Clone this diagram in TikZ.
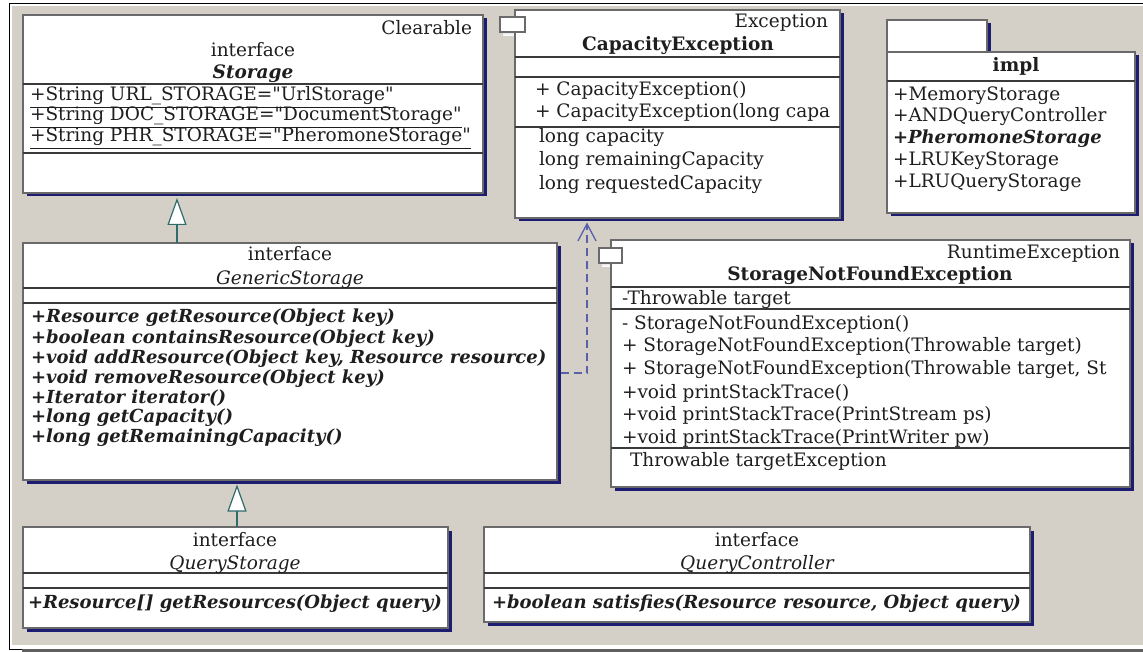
\documentclass[tikz,border=0pt]{standalone}
\usepackage{fontspec}
\setmainfont{DejaVu Serif}
\usetikzlibrary{arrows.meta,shadows}

\definecolor{panel}{HTML}{D4D0C8}
\definecolor{edge}{HTML}{6A6A6A}
\definecolor{shade}{HTML}{1C1C70}
\definecolor{rule}{HTML}{3A3A3A}
\definecolor{ink}{HTML}{1E1E1E}
\definecolor{teal2}{HTML}{2F6B6B}
\definecolor{depblue}{HTML}{5860A8}
\definecolor{frameGrey}{HTML}{606060}

\newcommand\fsz{\fontsize{18.5pt}{20pt}\selectfont}
\newcommand\fmi{\fontsize{18pt}{20pt}\selectfont\bfseries\itshape}
\newcommand\qq{\textquotedbl}

\begin{document}
\begin{tikzpicture}[x=1pt,y=-1pt,
  every node/.style={inner sep=0pt, outer sep=0pt, text=ink, font=\fsz},
  cls/.style 2 args={rectangle, draw=edge, line width=1.2pt, fill=white,
    anchor=north west, minimum width=#1pt, minimum height=#2pt,
    drop shadow={shadow xshift=3.5pt, shadow yshift=-3.5pt, fill=shade, opacity=1}},
  tabbox/.style 2 args={rectangle, draw=edge, line width=1.2pt, fill=white,
    anchor=north west, minimum width=#1pt, minimum height=#2pt},
  sep/.style={draw=rule, line width=1.2pt},
  lt/.style={anchor=base west},
  ct/.style={anchor=base},
  rt/.style={anchor=base east},
  bf/.style={font=\fsz\bfseries},
  bi/.style={font=\fsz\bfseries\itshape},
  it/.style={font=\fsz\itshape},
  mi/.style={font=\fmi},
  genarrow/.style={draw=teal2, line width=1.2pt,
    -{Triangle[length=27pt, width=19pt, fill=white]}},
  deparrow/.style={draw=depblue, line width=1.3pt, dash pattern=on 8pt off 5pt,
    -{Straight Barb[length=17pt, width=18pt]}}
]
\useasboundingbox (0,0) rectangle (1143,652);

% panel and frame
\fill[panel] (12,6) rectangle (1143,645);
\draw[black, line width=1.5pt] (9.5,650) -- (9.5,3.5) -- (1143,3.5);
\draw[frameGrey, line width=2.5pt] (22,650.5) -- (1143,650.5);
\draw[black, line width=1.2pt] (9.5,649.5) -- (22,649.5);

% ---------- interface Storage ----------
\node[cls={460}{178}] (sto) at (23,15) {};
\draw[sep] (sto.west |- 0,84) -- (sto.east |- 0,84);
\draw[sep] (sto.west |- 0,153) -- (sto.east |- 0,153);
\node[rt] (sto-st) at (472,35) {Clearable};
\node[ct] (sto-kw) at (253,57) {interface};
\node[ct, bi] (sto-nm) at (253,79) {Storage};
\node[lt] (sto-a1) at (30,101) {\underline{+String URL\_STORAGE=\qq UrlStorage\qq}};
\node[lt] (sto-a2) at (30,121) {\underline{+String DOC\_STORAGE=\qq DocumentStorage\qq}};
\node[lt] (sto-a3) at (30,142) {\underline{+String PHR\_STORAGE=\qq PheromoneStorage\qq}};

% ---------- CapacityException ----------
\fill[shade] (503,20) rectangle (528,35.5);
\node[cls={325}{208}] (cap) at (515,10) {};
\node[tabbox={25}{15}] (cap-tab) at (500,17) {};
\draw[sep] (cap.west |- 0,57) -- (cap.east |- 0,57);
\draw[sep] (cap.west |- 0,77) -- (cap.east |- 0,77);
\draw[sep] (cap.west |- 0,127) -- (cap.east |- 0,127);
\node[rt] (cap-st) at (828,28) {Exception};
\node[ct, bf] (cap-nm) at (678,51) {CapacityException};
\node[lt] (cap-m1) at (535,96) {+ CapacityException()};
\node[lt] (cap-m2) at (535,118) {+ CapacityException(long capa};
\node[lt] (cap-a1) at (539,143) {long capacity};
\node[lt] (cap-a2) at (539,166) {long remainingCapacity};
\node[lt] (cap-a3) at (539,190) {long requestedCapacity};

% ---------- package impl ----------
\node[cls={100}{32}] (imp-tab) at (887,20) {};
\node[cls={248}{161}] (imp) at (887,52) {};
\draw[sep] (imp.west |- 0,81) -- (imp.east |- 0,81);
\node[ct, bf] (imp-nm) at (1016,72) {impl};
\node[lt] (imp-c1) at (893,101) {+MemoryStorage};
\node[lt] (imp-c2) at (893,122) {+ANDQueryController};
\node[lt, mi] (imp-c3) at (893,144) {+PheromoneStorage};
\node[lt] (imp-c4) at (893,166) {+LRUKeyStorage};
\node[lt] (imp-c5) at (893,188) {+LRUQueryStorage};

% ---------- interface GenericStorage ----------
\node[cls={534}{237}] (gen) at (23,243) {};
\draw[sep] (gen.west |- 0,288) -- (gen.east |- 0,288);
\draw[sep] (gen.west |- 0,303) -- (gen.east |- 0,303);
\node[ct] (gen-kw) at (290,261) {interface};
\node[ct, it] (gen-nm) at (290,285) {GenericStorage};
\node[lt, mi] (gen-m1) at (31,323) {+Resource getResource(Object key)};
\node[lt, mi] (gen-m2) at (31,343) {+boolean containsResource(Object key)};
\node[lt, mi] (gen-m3) at (31,363) {+void addResource(Object key, Resource resource)};
\node[lt, mi] (gen-m4) at (31,383) {+void removeResource(Object key)};
\node[lt, mi] (gen-m5) at (31,403) {+Iterator iterator()};
\node[lt, mi] (gen-m6) at (31,422) {+long getCapacity()};
\node[lt, mi] (gen-m7) at (31,442) {+long getRemainingCapacity()};

% ---------- StorageNotFoundException ----------
\fill[shade] (602,251) rectangle (625,266.5);
\node[cls={519}{247}] (snf) at (611,240) {};
\node[tabbox={23}{15}] (snf-tab) at (599,248) {};
\draw[sep] (snf.west |- 0,287) -- (snf.east |- 0,287);
\draw[sep] (snf.west |- 0,309) -- (snf.east |- 0,309);
\draw[sep] (snf.west |- 0,448) -- (snf.east |- 0,448);
\node[rt] (snf-st) at (1120,259) {RuntimeException};
\node[ct, bf] (snf-nm) at (870,281) {StorageNotFoundException};
\node[lt] (snf-a1) at (622,305) {-Throwable target};
\node[lt] (snf-m1) at (622,329) {- StorageNotFoundException()};
\node[lt] (snf-m2) at (622,351) {+ StorageNotFoundException(Throwable target)};
\node[lt] (snf-m3) at (622,374) {+ StorageNotFoundException(Throwable target, St};
\node[lt] (snf-m4) at (622,398) {+void printStackTrace()};
\node[lt] (snf-m5) at (622,420) {+void printStackTrace(PrintStream ps)};
\node[lt] (snf-m6) at (622,443) {+void printStackTrace(PrintWriter pw)};
\node[lt] (snf-a2) at (630,466) {Throwable targetException};

% ---------- interface QueryStorage ----------
\node[cls={425}{101}] (qs) at (23,527) {};
\draw[sep] (qs.west |- 0,573) -- (qs.east |- 0,573);
\draw[sep] (qs.west |- 0,588) -- (qs.east |- 0,588);
\node[ct] (qs-kw) at (235,546) {interface};
\node[ct, it] (qs-nm) at (235,569) {QueryStorage};
\node[lt, mi] (qs-m1) at (28,608) {+Resource[] getResources(Object query)};

% ---------- interface QueryController ----------
\node[cls={546}{95}] (qc) at (484,527) {};
\draw[sep] (qc.west |- 0,573) -- (qc.east |- 0,573);
\draw[sep] (qc.west |- 0,588) -- (qc.east |- 0,588);
\node[ct] (qc-kw) at (757,546) {interface};
\node[ct, it] (qc-nm) at (757,569) {QueryController};
\node[lt, mi] (qc-m1) at (492,608) {+boolean satisfies(Resource resource, Object query)};

% ---------- relations ----------
\coordinate (ax1) at (177,0);
\coordinate (ax2) at (237,0);
\coordinate (dx) at (587,0);
\draw[genarrow, shorten >=5pt] (gen.north -| ax1) -- (sto.south -| ax1);
\draw[genarrow, shorten >=4.5pt] (qs.north -| ax2) -- (gen.south -| ax2);
\draw[deparrow, shorten <=3.5pt, shorten >=4.5pt]
  ([yshift=-11.5pt]gen.east) -| (cap.south -| dx);
\end{tikzpicture}
\end{document}
